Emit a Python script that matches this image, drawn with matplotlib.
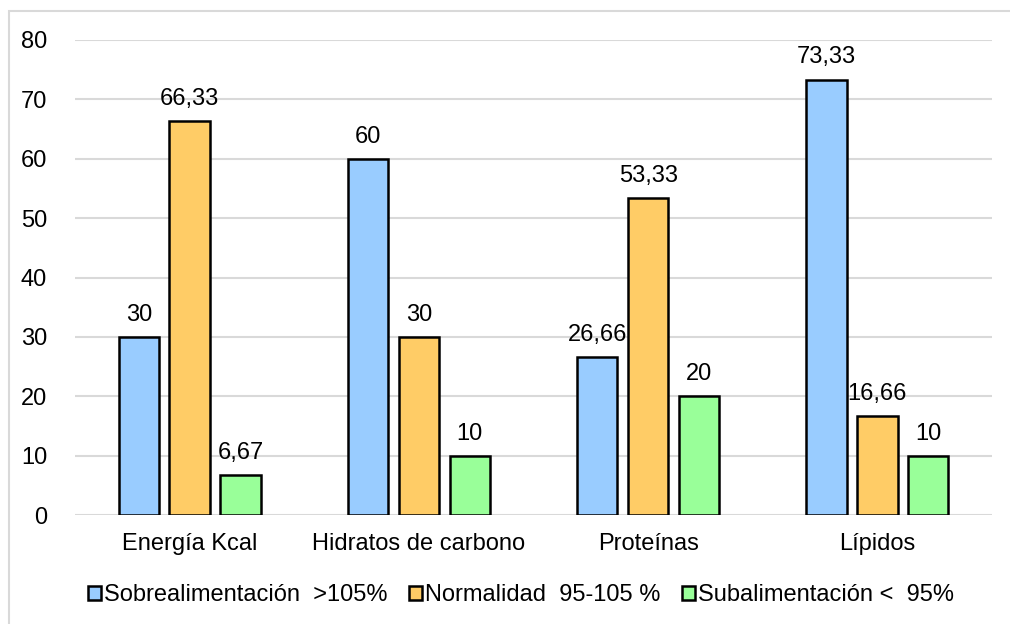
import matplotlib as mpl
mpl.use('Agg')
from matplotlib import pyplot as plt
from matplotlib.patches import Rectangle
import numpy as np

plt.rcParams['font.family'] = ['Liberation Sans', 'DejaVu Sans']

## ------------------------------------------------------------------
##  Data
## ------------------------------------------------------------------
categories = ['Energía Kcal', 'Hidratos de carbono', 'Proteínas', 'Lípidos']
series_names = ['Sobrealimentación  >105%', 'Normalidad  95-105 %',
                'Subalimentación <  95%']
sobre = [30, 60, 26.66, 73.33]
normal = [66.33, 30, 53.33, 16.66]
sub = [6.67, 10, 20, 10]
value_labels = [['30', '60', '26,66', '73,33'],
                ['66,33', '30', '53,33', '16,66'],
                ['6,67', '10', '20', '10']]
colors = ['#99CCFF', '#FFCC66', '#99FF99']

## ------------------------------------------------------------------
##  Figure
## ------------------------------------------------------------------
W, H = 1010, 624
fig = plt.figure(figsize=(W / 100, H / 100), dpi=100)
ax = fig.add_axes([75 / W, (H - 515) / H, (992 - 75) / W, (515 - 40) / H])

# light frame around the whole chart
fig.patches.append(Rectangle((9 / W, -0.05), 1.1, (H - 11) / H + 0.05,
                             transform=fig.transFigure, fill=False,
                             edgecolor='#d9d9d9', linewidth=1.5))

fs = 17
x = np.arange(len(categories))
width = 0.176
step = 0.222
for i, (vals, col) in enumerate(zip([sobre, normal, sub], colors)):
    pos = x + (i - 1) * step
    ax.bar(pos, vals, width, color=col, edgecolor='black', linewidth=1.8,
           label=series_names[i], zorder=3)
    for px, v, txt in zip(pos, vals, value_labels[i]):
        ax.annotate(txt, (px, v), xytext=(0, 8), textcoords='offset points',
                    ha='center', va='bottom', fontsize=fs)

ax.set_xlim(-0.5, 3.5)
ax.set_ylim(0, 80)
ax.set_yticks(range(0, 81, 10))
ax.yaxis.grid(True, color='#d9d9d9', linewidth=1.5, zorder=0)
ax.set_axisbelow(True)
for s in ax.spines.values():
    s.set_visible(False)
ax.tick_params(axis='both', length=0, labelsize=fs)
ax.tick_params(axis='y', pad=20)
ax.tick_params(axis='x', pad=13)
ax.set_xticks(x)
ax.set_xticklabels(categories)

fig.legend(loc='center', bbox_to_anchor=(521 / W, (H - 595) / H), ncol=3,
           frameon=False, fontsize=fs, handlelength=0.55,
           handleheight=0.55, handletextpad=0.15, columnspacing=0.9)

fig.savefig('out.png', dpi=100)
